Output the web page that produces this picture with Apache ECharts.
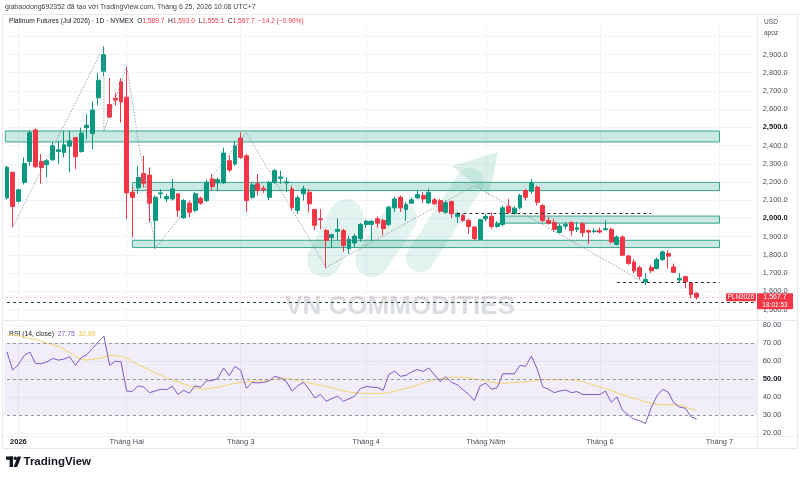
<!DOCTYPE html>
<html>
<head>
<meta charset="utf-8">
<script src="https://cdn.jsdelivr.net/npm/echarts@6/dist/echarts.min.js"></script>
<style>
html, body { margin: 0; padding: 0; background: #fff; }
#chart { width: 800px; height: 478px; }
</style>
</head>
<body>
<div id="chart"></div>
<script>
// daily bars, [open, close, low, high]
var candles = [
  [2113,2280,2104,2289],[2253,2066,1952,2258],[2094,2157,2088,2162],[2198,2302,2186,2335],
  [2313,2471,2289,2484],[2486,2284,2277,2495],[2313,2280,2190,2354],[2295,2317,2226,2326],
  [2322,2399,2317,2420],[2367,2377,2299,2426],[2362,2404,2335,2480],[2397,2426,2253,2480],
  [2444,2339,2271,2448],[2367,2468,2362,2498],[2498,2512,2435,2572],[2466,2595,2381,2644],
  [2662,2759,2622,2799],[2808,2899,2780,2945],[2626,2557,2553,2771],[2660,2650,2620,2690],
  [2750,2639,2526,2770],[2666,2140,1998,2835],[2144,2116,1898,2171],[2168,2225,2135,2289],
  [2247,2193,2171,2344],[2238,2084,1980,2280],[1989,2116,1835,2126],[2135,2140,2110,2160],
  [2107,2120,2090,2135],[2107,2162,2098,2217],[2135,2044,2007,2138],[2004,2098,1998,2107],
  [2084,2034,2007,2098],[2044,2135,2035,2144],[2111,2084,2075,2120],[2098,2198,2090,2213],
  [2217,2175,2153,2244],[2195,2213,2150,2226],[2195,2359,2190,2389],[2317,2266,2255,2344],
  [2299,2399,2290,2426],[2441,2335,2326,2471],[2344,2098,2034,2353],[2116,2184,2107,2198],
  [2190,2153,2126,2244],[2165,2158,2140,2180],[2116,2198,2100,2207],[2198,2262,2190,2271],
  [2220,2228,2190,2262],[2195,2201,2144,2225],[2162,2058,2044,2180],[2044,2113,2025,2126],
  [2135,2162,2098,2180],[2144,2080,2034,2162],[2049,1962,1935,2053],[1998,1993,1940,2051],
  [1934,1880,1725,1943],[1895,1911,1840,1916],[1929,1940,1880,2000],[1934,1852,1815,1943],
  [1835,1885,1805,1905],[1865,1903,1840,1916],[1889,1967,1872,1975],[1967,1985,1949,1993],
  [1967,1984,1875,1993],[1998,1974,1949,2011],[1989,1944,1908,1998],[1967,2062,1956,2067],
  [2058,2107,2035,2120],[2116,2058,2035,2126],[2049,2076,1987,2089],[2084,2102,2080,2116],
  [2113,2131,2107,2156],[2126,2107,2085,2144],[2085,2144,2080,2164],[2102,2080,2075,2113],
  [2098,2040,2029,2107],[2034,2086,2025,2098],[2093,2026,2002,2098],[2011,2026,1975,2035],
  [2016,1989,1980,2025],[1989,1956,1916,1998],[1953,1889,1880,1956],[1884,1993,1880,1998],
  [1998,2011,1985,2025],[2011,1956,1944,2034],[1956,1974,1949,1985],[1967,2058,1956,2071],
  [2066,2034,2025,2107],[2026,2056,2022,2067],[2058,2126,2050,2135],[2153,2116,2098,2162],
  [2149,2195,2135,2217],[2171,2089,2071,2180],[2071,1989,1978,2080],[1989,1974,1965,2007],
  [1977,1940,1925,1998],[1923,1958,1918,1971],[1958,1966,1940,1980],[1977,1934,1905,1985],
  [1940,1949,1925,1980],[1971,1922,1898,1980],[1934,1925,1860,1938],[1928,1931,1918,1945],
  [1933,1925,1918,1950],[1938,1944,1933,1990],[1940,1871,1862,1949],[1858,1898,1852,1907],
  [1898,1798,1792,1907],[1794,1753,1745,1800],[1761,1712,1700,1775],[1729,1683,1667,1740],
  [1652,1665,1634,1700],[1731,1713,1700,1745],[1725,1774,1720,1785],[1774,1816,1767,1825],
  [1807,1793,1725,1825],[1734,1704,1700,1752],[1662,1671,1650,1700],[1680,1652,1616,1685],
  [1647,1581.9,1562,1652],[1589.7,1567.7,1555.1,1593.0]
];

var rsi = [
  65,55,58,63,65,58.6,58.5,59.5,61.4,60.5,
  61,62.4,57.6,61.8,63.5,67,70.5,73.8,57.6,59.9,
  59.5,43.3,43.1,46.2,45.5,42.4,43.3,44.3,44,46,
  41.4,43.7,42.1,46.2,45.4,49,49,50.4,56.1,51.9,
  57,54.8,44.8,48.1,47.8,48.1,49,51.5,50.5,48.6,
  43.3,46.2,48.1,44.3,39.5,41.4,37.6,39.1,40.5,37.6,
  39,40.5,44.7,45.8,45.5,45.2,43.7,52.5,54.4,51.5,
  52,54,55.3,54.2,56.1,52.3,48.5,51.3,48.1,46.8,
  44,41.5,38,46.2,47.7,44.3,45.2,52.9,52.9,52.9,
  57.6,57,62.7,55.7,45.6,44.3,42.4,43.3,43.9,42.4,
  43,41.4,41.4,41.4,41.4,43.3,37,40.1,32.5,30,
  27.7,26.8,25.2,33.8,40.5,44.3,42.7,36.7,34.4,33.8,
  29,27.75
];

var rsiMa = [
  74.5,74.5,74,73.5,72.5,72,71,70,69,68,
  66.5,64.5,62.5,61,60.5,61,61.5,62,63,63,
  62.5,61.5,59.5,58,56.5,55,53.5,52,50.5,49.5,
  48.5,47.2,46.2,45.2,44.4,44.5,45,45.4,46.2,47,
  47.6,48,48.4,48.6,48.8,49,49.2,49.8,50.3,50.4,
  49.8,49.2,48.7,47.8,47.1,46.4,45.8,45.2,44.4,43.5,
  42.8,42.3,42.1,42,42,42,42,42.5,43.3,44,
  44.8,45.6,46.6,47.8,48.8,49.6,50.2,50.6,51,51,
  51,50.6,50,49.4,48.9,48.3,47.8,47.6,47.8,48,
  48.2,48.5,48.9,49.2,49.5,49.6,49.6,49.6,49.6,49.5,
  49.2,48.6,47.6,46.6,45.6,44.6,43.6,42.4,41.2,40.2,
  39.2,38.2,37.3,36.6,36,35.7,35.7,35.7,35.4,34.6,
  33.5,32.69
];

var tickIndex = [2, 21, 41, 63, 84, 104, 125];
var tickLabels = ['2026', 'Tháng Hai', 'Tháng 3', 'Tháng 4', 'Tháng Năm', 'Tháng 6', 'Tháng 7'];

// drawings: zones [fromBar, toBar, top, bottom], dashed levels [fromBar, toBar, price]
var zones = [[-0.3, 125, 2480, 2420], [22, 125, 2198, 2153], [87, 125, 2013, 1974], [22, 125, 1880, 1840]];
var levels = [[79, 113, 2029], [107, 125, 1649], [0, 131, 1538]];
var zigzag = [[1, 1952], [17, 2945], [17, 2480], [21, 2835], [26, 1835], [42, 2471], [56, 1732], [82, 2180], [112, 1645]];

var N = 132;
var cats = [];
for (var i = 0; i < N; i++) cats.push(String(i));

var FONT = 'Liberation Sans, Arial, sans-serif';
var GRID_LINE = '#f0f3fa';
var UP = '#089981', DOWN = '#f23645';

function fmtPrice(v) {
  return v.toFixed(1).replace(/\B(?=(\d{3})+(?!\d))/g, ',');
}
function isTick(idx) { return tickIndex.indexOf(idx) >= 0; }

var chart = echarts.init(document.getElementById('chart'), null, { renderer: 'canvas' });

var levelLines = levels.map(function (l, k) {
  return [
    { coord: [l[0], l[2]], lineStyle: { color: k === 2 ? '#3a3d45' : '#2a2e39', type: [3, 3], width: 1 } },
    { coord: [l[1], l[2]] }
  ];
});
var last = candles[candles.length - 1];
levelLines.push([
  { coord: [0, last[1]], lineStyle: { color: DOWN, type: [1, 2], width: 1, opacity: 0.4 } },
  { coord: [131, last[1]] }
]);

var option = {
  animation: false,
  textStyle: { fontFamily: FONT },
  grid: [
    { left: 7, right: 46.3, top: 27.2, height: 291.4 },
    { left: 7, right: 46.3, top: 325, height: 108 }
  ],
  xAxis: [
    {
      type: 'category', gridIndex: 0, data: cats, boundaryGap: false,
      axisLine: { show: false }, axisTick: { show: false }, axisLabel: { show: false },
      splitLine: { show: true, interval: function (idx) { return isTick(idx); }, lineStyle: { color: GRID_LINE } }
    },
    {
      type: 'category', gridIndex: 1, data: cats, boundaryGap: false,
      axisLine: { show: false }, axisTick: { show: false },
      axisLabel: {
        interval: function (idx) { return isTick(idx); },
        formatter: function (v, idx) {
          var k = tickIndex.indexOf(idx);
          if (k < 0) return '';
          return k === 0 ? '{b|' + tickLabels[k] + '}' : tickLabels[k];
        },
        rich: { b: { fontWeight: 'bold', fontSize: 7.5, color: '#131722', fontFamily: FONT } },
        fontSize: 7.5, color: '#4a4f5a', margin: 5, fontFamily: FONT
      },
      splitLine: { show: true, interval: function (idx) { return isTick(idx); }, lineStyle: { color: GRID_LINE } }
    },
    { type: 'value', gridIndex: 0, min: 0, max: 131, show: false }
  ],
  yAxis: [
    {
      type: 'value', gridIndex: 0, position: 'right', min: 1450, max: 3050, interval: 50,
      axisLine: { show: false }, axisTick: { show: false },
      axisLabel: {
        margin: 9, fontSize: 7.5, color: '#4a4f5a', fontFamily: FONT,
        formatter: function (v) {
          if (v % 100 !== 0 || v < 1500 || v > 2900) return '';
          var s = fmtPrice(v);
          return (v === 2000 || v === 2500) ? '{b|' + s + '}' : s;
        },
        rich: { b: { fontWeight: 'bold', fontSize: 7.5, color: '#131722', fontFamily: FONT } }
      },
      splitLine: { show: true, lineStyle: { color: ['rgba(0,0,0,0)', GRID_LINE] } }
    },
    {
      type: 'value', gridIndex: 1, position: 'right', min: 20, max: 80, interval: 10,
      axisLine: { show: false }, axisTick: { show: false },
      axisLabel: {
        margin: 9, fontSize: 7.5, color: '#4a4f5a', fontFamily: FONT,
        formatter: function (v) {
          var s = v.toFixed(2);
          return v === 50 ? '{b|' + s + '}' : s;
        },
        rich: { b: { fontWeight: 'bold', fontSize: 7.5, color: '#131722', fontFamily: FONT } }
      },
      splitLine: { show: true, lineStyle: { color: GRID_LINE } }
    }
  ],
  series: [
    {
      name: 'zones', type: 'custom', xAxisIndex: 2, yAxisIndex: 0, data: zones, z: 1, silent: true,
      renderItem: function (params, api) {
        var p0 = api.coord([api.value(0), api.value(2)]);
        var p1 = api.coord([api.value(1), api.value(3)]);
        return {
          type: 'rect',
          shape: { x: p0[0], y: p0[1], width: p1[0] - p0[0], height: p1[1] - p0[1] },
          style: { fill: 'rgba(38,166,140,0.25)', stroke: '#3aa58f', lineWidth: 1 }
        };
      }
    },
    {
      name: 'Platinum', type: 'candlestick', xAxisIndex: 0, yAxisIndex: 0, data: candles,
      barWidth: 4.4, z: 3,
      itemStyle: { color: UP, color0: DOWN, borderColor: UP, borderColor0: DOWN, borderWidth: 1 }
    },
    {
      name: 'zigzag', type: 'line', xAxisIndex: 2, yAxisIndex: 0, data: zigzag, z: 4,
      symbol: 'none', silent: true,
      lineStyle: { color: '#8a8e99', width: 0.8, type: [1.5, 1.5] },
      markLine: { silent: true, symbol: ['none', 'none'], label: { show: false }, data: levelLines }
    },
    {
      name: 'RSI', type: 'line', xAxisIndex: 1, yAxisIndex: 1, data: rsi, z: 3,
      symbol: 'none', lineStyle: { color: '#7e57c2', width: 1 },
      markArea: {
        silent: true,
        itemStyle: { color: 'rgba(126,87,194,0.1)' },
        data: [[{ yAxis: 70, x: 4 }, { yAxis: 30, x: 757 }]]
      },
      markLine: {
        silent: true, symbol: ['none', 'none'], label: { show: false },
        lineStyle: { color: '#9598a1', type: [3, 3], width: 1 },
        data: [{ yAxis: 70 }, { yAxis: 50 }, { yAxis: 30 }]
      }
    },
    {
      name: 'RSI MA', type: 'line', xAxisIndex: 1, yAxisIndex: 1, data: rsiMa, z: 2,
      symbol: 'none', lineStyle: { color: '#f3d36b', width: 1 }
    }
  ]
};

chart.setOption(option);

var yLast = chart.convertToPixel({ yAxisIndex: 0 }, last[1]);
var prevClose = candles[candles.length - 2][1];
var chg = last[1] - prevClose;
var pct = chg / prevClose * 100;
var neg = function (n, d) { return (n < 0 ? '−' : '+') + Math.abs(n).toFixed(d); };

chart.setOption({
  graphic: [
    // frame
    { type: 'rect', silent: true, z: 0, shape: { x: 2.5, y: 14.5, width: 795, height: 434 }, style: { fill: 'none', stroke: '#e6e8ee', lineWidth: 1 } },
    { type: 'line', silent: true, z: 0, shape: { x1: 757.5, y1: 14, x2: 757.5, y2: 448 }, style: { stroke: '#e6e8ee', lineWidth: 1 } },
    { type: 'line', silent: true, z: 0, shape: { x1: 3, y1: 320.5, x2: 797, y2: 320.5 }, style: { stroke: '#e6e8ee', lineWidth: 1 } },
    { type: 'line', silent: true, z: 0, shape: { x1: 3, y1: 436.5, x2: 797, y2: 436.5 }, style: { stroke: '#f0f1f4', lineWidth: 1 } },
    // watermark logo
    { type: 'line', silent: true, z: 1, shape: { x1: 324, y1: 260, x2: 346, y2: 216 }, style: { stroke: 'rgba(70,175,145,0.15)', lineWidth: 34, lineCap: 'round' } },
    { type: 'line', silent: true, z: 1, shape: { x1: 372, y1: 260, x2: 400, y2: 219 }, style: { stroke: 'rgba(70,175,145,0.15)', lineWidth: 34, lineCap: 'round' } },
    { type: 'line', silent: true, z: 1, shape: { x1: 420, y1: 258, x2: 470, y2: 182 }, style: { stroke: 'rgba(70,175,145,0.15)', lineWidth: 28, lineCap: 'round' } },
    { type: 'polygon', silent: true, z: 1, shape: { points: [[498, 152], [452, 166], [489, 196]] }, style: { fill: 'rgba(70,175,145,0.19)' } },
    { type: 'text', silent: true, z: 1, x: 400, y: 307, style: { text: 'VN COMMODITIES', font: 'bold 26px ' + FONT, fill: '#dadde2', align: 'center', verticalAlign: 'middle' } },
    // header
    { type: 'text', silent: true, x: 5, y: 7, style: { text: 'giabaodong692352 đã tạo với TradingView.com, Tháng 6 25, 2026 10:08 UTC+7', font: '7px ' + FONT, fill: '#3b3f4a', verticalAlign: 'middle' } },
    {
      type: 'text', silent: true, x: 9, y: 21.5,
      style: {
        text: 'Platinum Futures (Jul 2026) · 1D · NYMEX  O{r|' + fmtPrice(last[0]) + '}  H{r|' + fmtPrice(last[3]) +
          '}  L{r|' + fmtPrice(last[2]) + '}  C{r|' + fmtPrice(last[1]) + '}  {r|' + neg(chg, 1) + ' (' + neg(pct, 2) + '%)}',
        font: '6.6px ' + FONT, fill: '#131722', verticalAlign: 'middle',
        rich: { r: { fill: DOWN, font: '6.6px ' + FONT } }
      }
    },
    { type: 'text', silent: true, x: 764, y: 22, style: { text: 'USD', font: '6.6px ' + FONT, fill: '#4a4f5a', verticalAlign: 'middle' } },
    { type: 'text', silent: true, x: 764, y: 33, style: { text: 'apoz', font: '6.6px ' + FONT, fill: '#4a4f5a', verticalAlign: 'middle' } },
    // RSI legend
    {
      type: 'text', silent: true, x: 9, y: 334,
      style: {
        text: 'RSI (14, close)  {p|' + rsi[rsi.length - 1].toFixed(2) + '}  {y|' + rsiMa[rsiMa.length - 1].toFixed(2) + '}',
        font: '6.8px ' + FONT, fill: '#131722', verticalAlign: 'middle',
        rich: { p: { fill: '#7e57c2', font: '6.8px ' + FONT }, y: { fill: '#e8c14a', font: '6.8px ' + FONT } }
      }
    },
    // last price tags
    { type: 'rect', silent: true, z: 10, shape: { x: 726, y: yLast - 4, width: 30, height: 8, r: 1 }, style: { fill: DOWN } },
    { type: 'text', silent: true, z: 11, x: 741, y: yLast, style: { text: 'PLN2026', font: '6.3px ' + FONT, fill: '#fff', align: 'center', verticalAlign: 'middle' } },
    { type: 'rect', silent: true, z: 10, shape: { x: 757, y: yLast - 4, width: 36, height: 16, r: 1 }, style: { fill: DOWN } },
    { type: 'text', silent: true, z: 11, x: 775, y: yLast, style: { text: fmtPrice(last[1]), font: '7px ' + FONT, fill: '#fff', align: 'center', verticalAlign: 'middle' } },
    { type: 'text', silent: true, z: 11, x: 775, y: yLast + 8, style: { text: '18:01:53', font: '6.5px ' + FONT, fill: '#fff', align: 'center', verticalAlign: 'middle' } },
    // TradingView logo
    { type: 'rect', silent: true, shape: { x: 6, y: 456.5, width: 7, height: 3.3 }, style: { fill: '#131722' } },
    { type: 'rect', silent: true, shape: { x: 9.6, y: 456.5, width: 3.4, height: 10.5 }, style: { fill: '#131722' } },
    { type: 'circle', silent: true, shape: { cx: 15.3, cy: 458.2, r: 1.7 }, style: { fill: '#131722' } },
    { type: 'polygon', silent: true, shape: { points: [[17.6, 456.5], [21.2, 456.5], [17.2, 467], [13.6, 467]] }, style: { fill: '#131722' } },
    { type: 'text', silent: true, x: 23.5, y: 462, style: { text: 'TradingView', font: 'bold 11.5px ' + FONT, fill: '#131722', verticalAlign: 'middle' } }
  ]
});

window.addEventListener('resize', function () { chart.resize(); });
</script>
</body>
</html>
